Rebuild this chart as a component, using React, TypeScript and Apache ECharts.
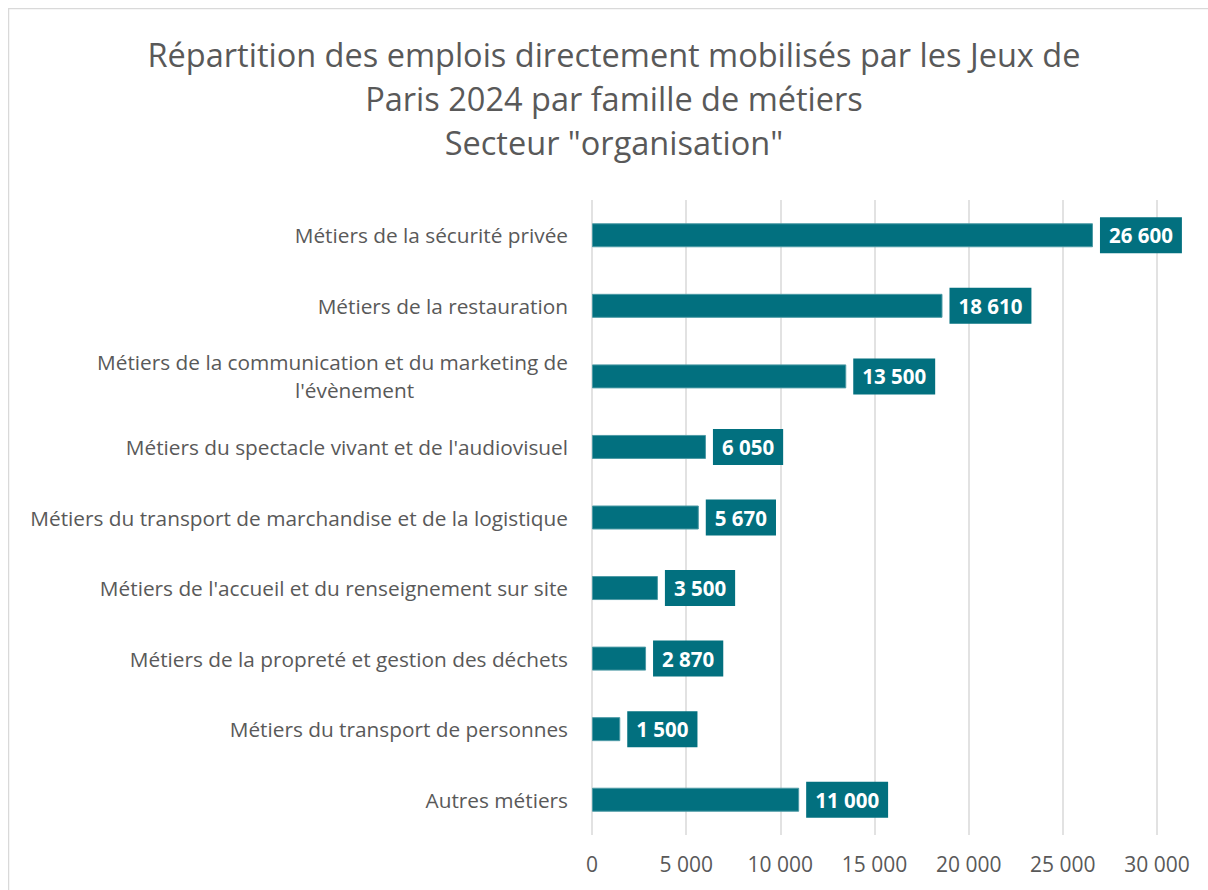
import React, { useEffect, useRef } from "react";
import * as echarts from "echarts";

const categories = [
  "Métiers de la sécurité privée",
  "Métiers de la restauration",
  "Métiers de la communication et du marketing de l'évènement",
  "Métiers du spectacle vivant et de l'audiovisuel",
  "Métiers du transport de marchandise et de la logistique",
  "Métiers de l'accueil et du renseignement sur site",
  "Métiers de la propreté et gestion des déchets",
  "Métiers du transport de personnes",
  "Autres métiers",
];
const values = [26600, 18610, 13500, 6050, 5670, 3500, 2870, 1500, 11000];
const xTicks = { min: 0, max: 30000, interval: 5000 };
const titleLines = [
  "Répartition des emplois directement mobilisés par les Jeux de",
  "Paris 2024 par famille de métiers",
  'Secteur "organisation"',
];

const TEAL = "#02707F";
const FONT = "'Open Sans', sans-serif";
const LABEL_SIZE = 20.8;
const fmt = (n: number) => String(n).replace(/\B(?=(\d{3})+(?!\d))/g, " ");

export default function App() {
  const ref = useRef<HTMLDivElement>(null);
  useEffect(() => {
    const chart = echarts.init(ref.current!, undefined, { renderer: "svg" });
    chart.setOption({
      animation: false,
      textStyle: { fontFamily: FONT },
      title: {
        text: titleLines.join("\n"),
        left: "center",
        top: 19,
        textStyle: { fontFamily: FONT, fontSize: 32.5, fontWeight: "normal", color: "#595959", lineHeight: 44 },
      },
      graphic: [
        { type: "rect", shape: { x: 0.5, y: 0.5, width: 1400, height: 1000 }, style: { fill: "none", stroke: "#d9d9d9", lineWidth: 1.5 }, silent: true },
      ],
      grid: { left: 584, right: 63, top: 192, bottom: 55, containLabel: false },
      xAxis: {
        type: "value",
        min: xTicks.min,
        max: xTicks.max,
        interval: xTicks.interval,
        axisLine: { show: false },
        axisTick: { show: false },
        splitLine: { lineStyle: { color: "#d9d9d9", width: 1.5 } },
        axisLabel: { color: "#595959", fontSize: 21, margin: 18, formatter: (v: number) => fmt(v) },
      },
      yAxis: {
        type: "category",
        inverse: true,
        data: categories,
        axisLine: { show: false },
        axisTick: { show: false },
        axisLabel: {
          color: "#595959",
          fontSize: LABEL_SIZE,
          margin: 24,
          lineHeight: 28,
          formatter: (v: string) => {
            const m = "marketing de ";
            const i = v.indexOf(m);
            if (i >= 0) {
              return "{a|" + v.slice(0, i + m.length - 1) + "}\n{b|" + v.slice(i + m.length) + "}";
            }
            return "{a|" + v + "}";
          },
          rich: {
            a: { color: "#595959", fontSize: LABEL_SIZE, fontFamily: FONT, lineHeight: 28 },
            b: { color: "#595959", fontSize: LABEL_SIZE, fontFamily: FONT, lineHeight: 28, align: "center", padding: [0, 0, 0, 44] },
          },
        },
      },
      series: [
        {
          type: "bar",
          data: values,
          barWidth: 24,
          itemStyle: { color: TEAL, borderColor: "#4d9aa5", borderWidth: 1 },
          label: {
            show: true,
            position: "right",
            distance: 7,
            backgroundColor: TEAL,
            color: "#ffffff",
            fontWeight: "bold",
            fontSize: 20.5,
            fontFamily: FONT,
            padding: [8, 9, 7, 9],
            formatter: (p: any) => fmt(p.value),
          },
        },
      ],
    });
    return () => chart.dispose();
  }, []);
  return (
    <div style={{ position: "fixed", left: 0, top: 0, width: 1208, height: 890, overflow: "hidden", background: "#fff" }}>
      <div ref={ref} style={{ position: "absolute", left: 8, top: 8, width: 1212, height: 882 }} />
    </div>
  );
}
